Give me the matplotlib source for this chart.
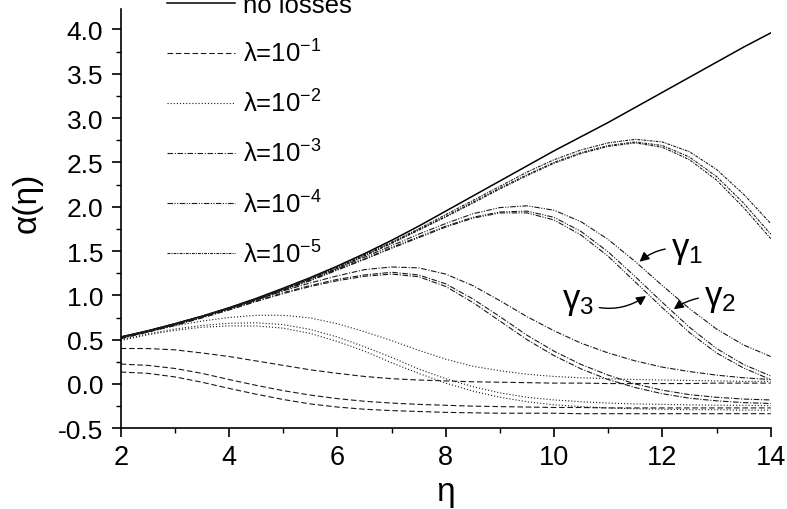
import numpy as np
import matplotlib
matplotlib.use("Agg")
import matplotlib.pyplot as plt
from matplotlib.ticker import MultipleLocator, FormatStrFormatter

plt.rcParams['font.family'] = ['Liberation Sans', 'DejaVu Sans']
plt.rcParams['mathtext.fontset'] = 'custom'
plt.rcParams['mathtext.rm'] = 'Liberation Sans'
plt.rcParams['mathtext.it'] = 'Liberation Sans:italic'
plt.rcParams['axes.unicode_minus'] = False

# ---------------- data ----------------
eta = [2, 2.5, 3, 3.5, 4, 4.5, 5, 5.5, 6, 6.5, 7, 7.5, 8, 8.5, 9, 9.5, 10,
       10.5, 11, 11.5, 12, 12.5, 13, 13.5, 14]

no_losses = [0.53, 0.60, 0.68, 0.765, 0.86, 0.965, 1.08, 1.20, 1.33, 1.47, 1.62,
             1.78, 1.95, 2.12, 2.29, 2.46, 2.63, 2.79, 2.95, 3.12, 3.29, 3.46,
             3.63, 3.80, 3.96]

# lambda = 1e-1 (dashed)
lam1_g1 = [0.40, 0.40, 0.385, 0.35, 0.31, 0.26, 0.21, 0.16, 0.12, 0.085, 0.06,
           0.045, 0.035, 0.025, 0.02, 0.015, 0.01, 0.01, 0.005, 0.005, 0.005,
           0.005, 0.01, 0.01, 0.01]
lam1_g2 = [0.225, 0.21, 0.175, 0.12, 0.05, -0.015, -0.075, -0.125, -0.165,
           -0.195, -0.215, -0.23, -0.24, -0.25, -0.255, -0.26, -0.265, -0.265,
           -0.27, -0.27, -0.27, -0.27, -0.27, -0.27, -0.27]
lam1_g3 = [0.135, 0.12, 0.08, 0.02, -0.05, -0.115, -0.175, -0.225, -0.26, -0.285,
           -0.30, -0.31, -0.32, -0.325, -0.33, -0.33, -0.33, -0.335, -0.335,
           -0.335, -0.335, -0.335, -0.335, -0.335, -0.335]

# lambda = 1e-2 (dotted)
lam2_g1 = [0.52, 0.59, 0.655, 0.71, 0.75, 0.775, 0.775, 0.745, 0.68, 0.59, 0.49,
           0.38, 0.28, 0.20, 0.15, 0.11, 0.085, 0.07, 0.06, 0.05, 0.045, 0.04,
           0.035, 0.03, 0.03]
lam2_g2 = [0.50, 0.565, 0.62, 0.66, 0.685, 0.69, 0.67, 0.615, 0.53, 0.42, 0.30,
           0.17, 0.06, -0.03, -0.10, -0.15, -0.18, -0.20, -0.215, -0.225, -0.23,
           -0.235, -0.24, -0.24, -0.245]
lam2_g3 = [0.49, 0.555, 0.605, 0.64, 0.655, 0.655, 0.63, 0.57, 0.48, 0.37, 0.24,
           0.12, 0.01, -0.08, -0.15, -0.20, -0.235, -0.255, -0.27, -0.28, -0.285,
           -0.29, -0.29, -0.295, -0.295]

# lambda = 1e-3 (dash-dot)
lam3_g1 = [0.53, 0.60, 0.675, 0.76, 0.85, 0.95, 1.05, 1.14, 1.22, 1.29, 1.32,
           1.31, 1.24, 1.11, 0.94, 0.76, 0.60, 0.46, 0.35, 0.26, 0.19, 0.14,
           0.10, 0.07, 0.05]
lam3_g2 = [0.52, 0.59, 0.665, 0.75, 0.84, 0.935, 1.03, 1.11, 1.18, 1.23, 1.26,
           1.23, 1.13, 0.96, 0.76, 0.55, 0.37, 0.22, 0.10, 0.0, -0.07, -0.12,
           -0.15, -0.17, -0.18]
lam3_g3 = [0.51, 0.585, 0.66, 0.745, 0.835, 0.93, 1.02, 1.10, 1.165, 1.215,
           1.24, 1.21, 1.10, 0.92, 0.71, 0.50, 0.32, 0.17, 0.05, -0.04, -0.11,
           -0.16, -0.19, -0.21, -0.22]

# lambda = 1e-4 (dash-dot-dot)
lam4_g1 = [0.53, 0.60, 0.68, 0.765, 0.855, 0.955, 1.065, 1.18, 1.30, 1.43, 1.56,
           1.69, 1.81, 1.92, 1.99, 2.01, 1.96, 1.83, 1.63, 1.38, 1.11, 0.85,
           0.62, 0.44, 0.31]
lam4_g2 = [0.52, 0.59, 0.67, 0.76, 0.85, 0.95, 1.06, 1.17, 1.29, 1.41, 1.54,
           1.66, 1.78, 1.88, 1.94, 1.95, 1.88, 1.72, 1.49, 1.21, 0.92, 0.64,
           0.40, 0.22, 0.09]
lam4_g3 = [0.52, 0.59, 0.67, 0.755, 0.845, 0.945, 1.055, 1.165, 1.285, 1.405,
           1.53, 1.65, 1.77, 1.87, 1.93, 1.93, 1.85, 1.68, 1.44, 1.15, 0.86,
           0.58, 0.35, 0.18, 0.05]

# lambda = 1e-5 (fine dash-dot)
lam5_g1 = [0.53, 0.60, 0.68, 0.765, 0.86, 0.96, 1.075, 1.195, 1.32, 1.46, 1.60,
           1.75, 1.91, 2.07, 2.23, 2.39, 2.53, 2.64, 2.72, 2.76, 2.73, 2.62,
           2.42, 2.14, 1.81]
lam5_g2 = [0.52, 0.59, 0.67, 0.76, 0.855, 0.955, 1.07, 1.19, 1.31, 1.45, 1.59,
           1.74, 1.89, 2.05, 2.21, 2.36, 2.50, 2.61, 2.69, 2.73, 2.69, 2.56,
           2.34, 2.04, 1.69]
lam5_g3 = [0.52, 0.59, 0.67, 0.76, 0.85, 0.95, 1.065, 1.185, 1.305, 1.445,
           1.585, 1.735, 1.885, 2.04, 2.20, 2.35, 2.49, 2.60, 2.68, 2.72, 2.67,
           2.53, 2.30, 1.99, 1.64]

legend_labels = ['no losses',
                 'λ=10$^{-1}$',
                 'λ=10$^{-2}$',
                 'λ=10$^{-3}$',
                 'λ=10$^{-4}$',
                 'λ=10$^{-5}$']

x_ticks = [2, 4, 6, 8, 10, 12, 14]
y_ticks = [-0.5, 0.0, 0.5, 1.0, 1.5, 2.0, 2.5, 3.0, 3.5, 4.0]

# ---------------- figure ----------------
fig = plt.figure(figsize=(7.87, 5.10), dpi=100)
ax = fig.add_axes([0.1534, 0.1582, 0.8259, 0.8222])

lc = '#1a1a1a'
lw = 0.8
styles = [
    (0, (5, 2.5)),
    (0, (1, 1.8)),
    (0, (5, 1.5, 1, 1.5)),
    (0, (5, 1.3, 1, 1.3, 1, 1.3)),
    (0, (2.5, 1, 1, 1)),
]
families = [
    [lam1_g1, lam1_g2, lam1_g3],
    [lam2_g1, lam2_g2, lam2_g3],
    [lam3_g1, lam3_g2, lam3_g3],
    [lam4_g1, lam4_g2, lam4_g3],
    [lam5_g1, lam5_g2, lam5_g3],
]

ax.plot(eta, no_losses, color='black', lw=1.1, ls='-', label=legend_labels[0])
for i, (fam, st) in enumerate(zip(families, styles)):
    for j, curve in enumerate(fam):
        ax.plot(eta, curve, color=lc, lw=lw, ls=st,
                label=legend_labels[i + 1] if j == 0 else '_nolegend_')

ax.set_xlim(2, 14)
ax.set_ylim(-0.5, 4.23)
ax.set_xticks(x_ticks)
ax.set_yticks(y_ticks)
ax.xaxis.set_minor_locator(MultipleLocator(1))
ax.yaxis.set_minor_locator(MultipleLocator(0.25))
ax.yaxis.set_major_formatter(FormatStrFormatter('%.1f'))
for s in ['top', 'right']:
    ax.spines[s].set_visible(False)
for s in ['left', 'bottom']:
    ax.spines[s].set_linewidth(1.2)
ax.tick_params(axis='both', which='major', direction='out', length=6.5,
               width=1.2)
ax.tick_params(axis='y', which='major', labelsize=19, pad=6)
ax.tick_params(axis='x', which='major', labelsize=19.5, pad=5)
ax.tick_params(axis='both', which='minor', direction='out', length=3.5,
               width=1.0)

ax.set_xlabel('η', fontsize=24)
ax.set_ylabel('α(η)', fontsize=24)
ax.yaxis.set_label_coords(-0.12, 0.54)

leg = ax.legend(loc='upper left', bbox_to_anchor=(0.2118, 1.012),
                bbox_transform=fig.transFigure, frameon=False, fontsize=18.5,
                borderpad=0, borderaxespad=0, handlelength=2.66,
                handletextpad=0.3, labelspacing=0.89)

# annotations gamma_1, gamma_2, gamma_3 pointing at lambda=1e-4 curves
arrow_kw = dict(arrowstyle='-|>', color='black', lw=1.0, mutation_scale=14)
x1 = 11.54
ax.annotate('γ$_1$', xy=(x1, np.interp(x1, eta, lam4_g1)),
            xytext=(12.45, 1.52), fontsize=25, ha='center', va='center',
            arrowprops=dict(connectionstyle='arc3,rad=0.25', **arrow_kw))
x3 = 11.74
ax.annotate('γ$_3$', xy=(x3, np.interp(x3, eta, lam4_g3)),
            xytext=(10.44, 0.94), fontsize=25, ha='center', va='center',
            arrowprops=dict(connectionstyle='arc3,rad=0.3', **arrow_kw))
x2 = 12.17
ax.annotate('γ$_2$', xy=(x2, np.interp(x2, eta, lam4_g2)),
            xytext=(13.06, 0.98), fontsize=25, ha='center', va='center',
            arrowprops=dict(connectionstyle='arc3,rad=0.2', **arrow_kw))

fig.savefig('out.png', dpi=100)
